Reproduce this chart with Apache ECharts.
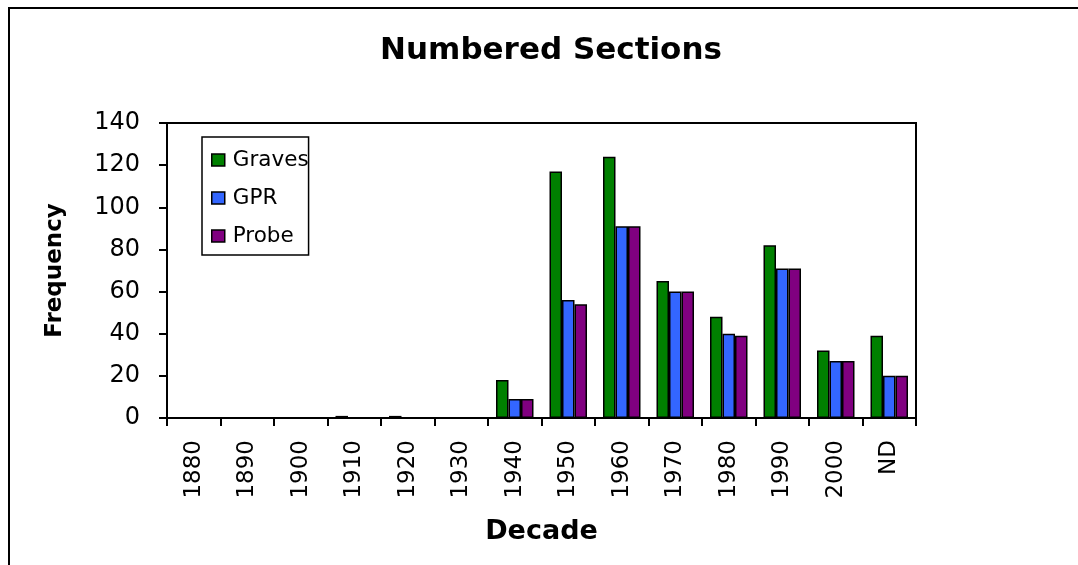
<!DOCTYPE html>
<html>
<head>
<meta charset="utf-8">
<script src="https://cdn.jsdelivr.net/npm/echarts@6/dist/echarts.min.js"></script>
<style>
html,body{margin:0;padding:0;background:#fff;}
#chart{width:1078px;height:565px;}
</style>
</head>
<body>
<div id="chart"></div>
<script>
const decades = ['1880','1890','1900','1910','1920','1930','1940','1950','1960','1970','1980','1990','2000','ND'];
const graves = [0, 0, 0, 1, 1, 0, 18, 117, 124, 65, 48, 82, 32, 39];
const gpr    = [0, 0, 0, 0, 0, 0, 9, 56, 91, 60, 40, 71, 27, 20];
const probe  = [0, 0, 0, 0, 0, 0, 9, 54, 91, 60, 39, 71, 27, 20];
const yTicks = [0, 20, 40, 60, 80, 100, 120, 140];

const FONT = 'DejaVu Sans';
const chart = echarts.init(document.getElementById('chart'));
const barBase = {
  type: 'bar',
  barWidth: 12.5,
  barGap: '0%'
};
chart.setOption({
  animation: false,
  backgroundColor: '#fff',
  textStyle: { fontFamily: FONT, color: '#000' },
  title: {
    text: 'Numbered Sections',
    left: 546,
    textAlign: 'center',
    top: 30,
    textStyle: { fontFamily: FONT, fontSize: 31, fontWeight: 'bold', color: '#000' }
  },
  graphic: [{
    type: 'rect',
    shape: { x: 9, y: 8, width: 1200, height: 700 },
    style: { fill: 'none', stroke: '#000', lineWidth: 2 },
    silent: true, z: 100
  }],
  legend: {
    orient: 'vertical',
    left: 202,
    top: 137,
    padding: [12, 0, 8, 9],
    itemGap: 16,
    itemWidth: 13,
    itemHeight: 12,
    icon: 'rect',
    borderColor: '#000',
    borderWidth: 1.5,
    itemStyle: { borderColor: '#000', borderWidth: 1.5 },
    textStyle: { fontFamily: FONT, fontSize: 21.5, color: '#000', lineHeight: 22, padding: [0, 0, 0, 3] },
    data: ['Graves', 'GPR', 'Probe']
  },
  grid: {
    left: 167, top: 123, right: 162, bottom: 147,
    show: true, borderColor: '#000', borderWidth: 2, backgroundColor: 'transparent'
  },
  xAxis: {
    type: 'category',
    data: decades,
    name: 'Decade',
    nameLocation: 'middle',
    nameGap: 100,
    nameTextStyle: { fontFamily: FONT, fontSize: 27, fontWeight: 'bold', color: '#000' },
    axisLine: { lineStyle: { color: '#000', width: 2 } },
    axisTick: { show: true, length: 8, alignWithLabel: false, lineStyle: { color: '#000', width: 2 } },
    axisLabel: { rotate: 90, margin: 22, fontSize: 23, fontFamily: FONT, color: '#000', interval: 0 }
  },
  yAxis: {
    type: 'value',
    min: yTicks[0],
    max: yTicks[yTicks.length - 1],
    interval: 20,
    name: 'Frequency',
    nameLocation: 'middle',
    nameGap: 100,
    nameRotate: 90,
    nameTextStyle: { fontFamily: FONT, fontSize: 23, fontWeight: 'bold', color: '#000' },
    splitLine: { show: false },
    axisLine: { show: true, lineStyle: { color: '#000', width: 2 } },
    axisTick: { show: true, length: 8, lineStyle: { color: '#000', width: 2 } },
    axisLabel: { margin: 27, fontSize: 24, fontFamily: FONT, color: '#000' }
  },
  series: [
    Object.assign({}, barBase, { name: 'Graves', data: graves, itemStyle: { color: '#008000', borderColor: '#000', borderWidth: 1.5 } }),
    Object.assign({}, barBase, { name: 'GPR', data: gpr, itemStyle: { color: '#3366FF', borderColor: '#000', borderWidth: 1.5 } }),
    Object.assign({}, barBase, { name: 'Probe', data: probe, itemStyle: { color: '#800080', borderColor: '#000', borderWidth: 1.5 } })
  ]
});
</script>
</body>
</html>
